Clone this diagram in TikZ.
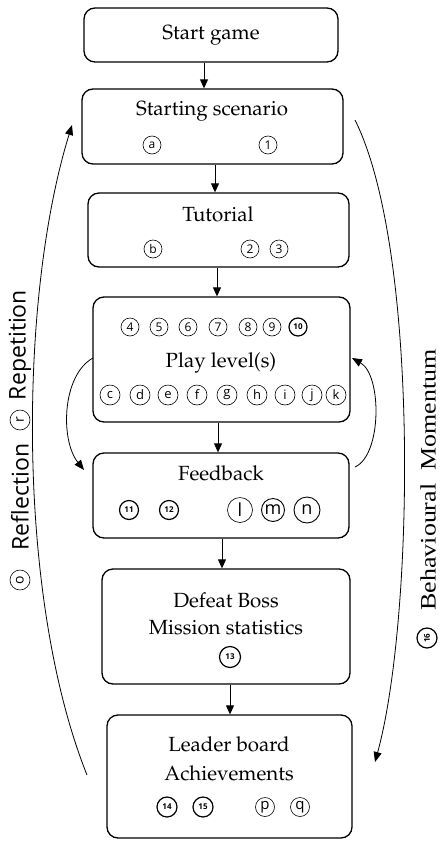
\documentclass[tikz,border=0pt]{standalone}
\usepackage{fontspec}
\usepackage[T1,TU]{fontenc}
\usetikzlibrary{arrows.meta}
\newfontfamily\circfont{Open Sans}
\newfontfamily\labsans{Open Sans}
\newfontfamily\labserif{Liberation Serif}
\newcommand\palfont{\fontencoding{T1}\fontfamily{ppl}\selectfont}
\tikzset{
  box/.style={draw, line width=1.3pt, rounded corners=11pt, inner sep=0pt},
  txt/.style={font=\palfont\fontsize{20.5}{24}\selectfont, inner sep=0pt},
  cl/.style={circle, draw, line width=0.6pt, minimum size=18pt, inner sep=0pt, font=\circfont\fontsize{12}{12}\selectfont},
  cbig/.style={cl, minimum size=20pt, font=\circfont\fontsize{13}{13}\selectfont},
  cb/.style={cl, line width=1.2pt, minimum size=19pt, font=\circfont\fontsize{8}{8}\selectfont\bfseries},
  arr/.style={line width=0.9pt, -{Triangle[length=9pt,width=8pt]}},
  arc/.style={line width=0.8pt, -{Triangle[length=10pt,width=8pt]}},
  side/.style={rotate=90, inner sep=0pt}
}
\begin{document}
\begin{tikzpicture}[x=1pt,y=-1pt]
\useasboundingbox (0,0) rectangle (441,841);
% boxes
\node[box, minimum width=254pt, minimum height=54pt] (b1) at (211,35) {};
\node[box, minimum width=261pt, minimum height=75pt] (b2) at (212.5,126.5) {};
\node[box, minimum width=261pt, minimum height=74pt] (b3) at (218.5,230) {};
\node[box, minimum width=257pt, minimum height=125pt] (b4) at (221.5,359.5) {};
\node[box, minimum width=256pt, minimum height=85pt] (b5) at (221,495.5) {};
\node[box, minimum width=248pt, minimum height=115pt] (b6) at (226,626.5) {};
\node[box, minimum width=245pt, minimum height=123pt] (b7) at (229.5,776.5) {};
% texts
\node[txt] (t1) at (211,35) {Start game};
\node[txt] (t2) at (212,111) {Starting scenario};
\node[txt] (t3) at (218,214) {Tutorial};
\node[txt] (t4) at (221,363) {Play level(s)};
\node[txt] (t5) at (221,473) {Feedback};
\node[txt] (t6a) at (226,600) {Defeat Boss};
\node[txt] (t6b) at (226,628) {Mission statistics};
\node[txt] (t7a) at (229,744) {Leader board};
\node[txt] (t7b) at (229,773) {Achievements};
% circles box 2
\node[cl] (ca) at (152,145) {a};
\node[cl] (n1) at (268,145) {1};
% box 3
\node[cl] (cbb) at (153,249) {b};
\node[cl] (n2) at (250,249) {2};
\node[cl] (n3) at (279,249) {3};
% box 4
\node[cl] (n4) at (130,327) {4};
\node[cl] (n5) at (159,327) {5};
\node[cl] (n6) at (188,327) {6};
\node[cl] (n7) at (218,327) {7};
\node[cl] (n8) at (248,327) {8};
\node[cl] (n9) at (272,327) {9};
\node[cb, minimum size=18pt] (n10) at (298,327) {10};
\node[cbig] (cc) at (110,395) {c};
\node[cbig] (cd) at (140,395) {d};
\node[cbig] (ce) at (168,395) {e};
\node[cbig] (cf) at (197,395) {f};
\node[cbig] (cg) at (227,395) {g};
\node[cbig] (ch) at (257,395) {h};
\node[cbig] (ci) at (285,395) {i};
\node[cbig] (cj) at (312,395) {j};
\node[cbig] (ck) at (336,395) {k};
% box 5
\node[cb] (n11) at (129,510) {11};
\node[cb] (n12) at (169,510) {12};
\node[cl, minimum size=25pt, font=\circfont\fontsize{18}{18}\selectfont] (cl1) at (240,510) {l};
\node[cl, minimum size=23pt, line width=0.9pt, font=\circfont\fontsize{18}{18}\selectfont] (cm) at (273,510) {m};
\node[cl, minimum size=26pt, line width=0.9pt, font=\circfont\fontsize{18}{18}\selectfont] (cn) at (307,510) {n};
% box 6
\node[cb, minimum size=21pt] (n13) at (230,657) {13};
% box 7
\node[cb, minimum size=20pt] (n14) at (167,807) {14};
\node[cb, minimum size=20pt] (n15) at (203,807) {15};
\node[cl, minimum size=19pt, font=\circfont\fontsize{15}{15}\selectfont] (cp) at (265,807) {p};
\node[cl, minimum size=19pt, font=\circfont\fontsize{15}{15}\selectfont] (cq) at (300,807) {q};
% vertical arrows
\draw[arr] (b1.south -| 204,0) -- (b2.north -| 204,0);
\draw[arr] (b2.south -| 215,0) -- (b3.north -| 215,0);
\draw[arr] (b3.south -| 217,0) -- (b4.north -| 217,0);
\draw[arr] (b4.south -| 218,0) -- (b5.north -| 218,0);
\draw[arr] (b5.south -| 222,0) -- (b6.north -| 222,0);
\draw[arr] (b6.south -| 230,0) -- (b7.north -| 230,0);
% loop arcs
\coordinate (ls) at (87,775);
\coordinate (le) at (72,125);
\draw[arc] (ls) .. controls (17,600) and (18,300) .. (le);
\coordinate (rs) at (355,120);
\coordinate (re) at (375,762);
\draw[arc] (rs) .. controls (420,250) and (414,620) .. (re);
\coordinate (ils) at (93,358);
\coordinate (ile) at (84,470);
\draw[arc] (ils) .. controls (62,375) and (60,440) .. (ile);
\coordinate (irs) at (355,467);
\coordinate (ire) at (352,358);
\draw[arc] (irs) .. controls (382,455) and (382,375) .. (ire);
% side labels
\node[cl, minimum size=20pt, rotate=90, font=\circfont\fontsize{14}{14}\selectfont] (co) at (20,580) {o};
\node[side, font=\labsans\fontsize{23}{23}\selectfont] (lref) at (20,497) {Reflection};
\node[cl, minimum size=20pt, rotate=90, font=\circfont\fontsize{14}{14}\selectfont] (cr) at (20,420) {r};
\node[side, font=\labsans\fontsize{23}{23}\selectfont] (lrep) at (20,345) {Repetition};
\node[cb, rotate=90, minimum size=20pt] (n16) at (427,638) {16};
\node[side, font=\labserif\fontsize{22}{22}\selectfont] (lbm) at (428,480) {\scalebox{1.18}[1]{Behavioural\ \ Momentum}};
\end{tikzpicture}
\end{document}
